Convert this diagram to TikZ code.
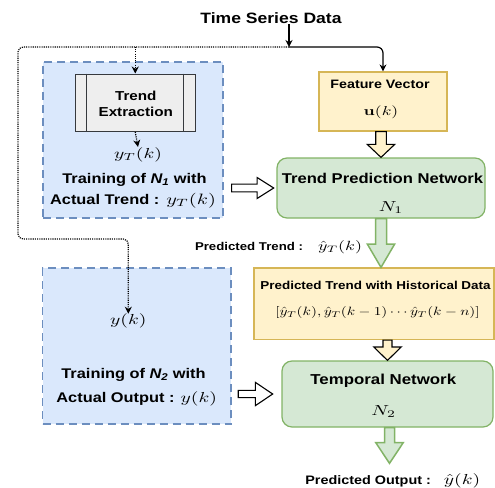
\documentclass[tikz,border=0pt]{standalone}
\usepackage[no-math]{fontspec}
\setmainfont{Liberation Sans}[FakeStretch=1.17]
\usepackage{graphicx}
\usetikzlibrary{calc,arrows.meta}

\definecolor{blueFill}{HTML}{DAE8FC}
\definecolor{blueLine}{HTML}{6C8EBF}
\definecolor{yelFill}{HTML}{FFF2CC}
\definecolor{yelLine}{HTML}{D6B656}
\definecolor{grnFill}{HTML}{D5E8D4}
\definecolor{grnLine}{HTML}{82B366}
\definecolor{grayFill}{HTML}{EEEEEE}
\definecolor{grayLine}{HTML}{36393D}

% font size helper and horizontally widened math (math set at 10pt, then scaled)
\newcommand{\setsz}[1]{\fontsize{#1}{#1}\selectfont}
\newcommand{\mx}[3][1.35]{%
  \pgfmathsetmacro\mxh{#2/10}\pgfmathsetmacro\mxw{#1*#2/10}%
  \scalebox{\mxw}[\mxh]{\fontsize{10}{12}\selectfont$#3$}}

% block arrow pointing down: style, start, end, shaft half width, head half width, head length
\newcommand{\blockdown}[6]{%
  \path let \p1=(#2), \p2=(#3) in [#1]
    (\x1-#4,\y1) -- (\x1-#4,\y2+#6) -- (\x1-#5,\y2+#6) -- (\x1,\y2)
    -- (\x1+#5,\y2+#6) -- (\x1+#4,\y2+#6) -- (\x1+#4,\y1) -- cycle;}
% block arrow pointing right
\newcommand{\blockright}[6]{%
  \path let \p1=(#2), \p2=(#3) in [#1]
    (\x1,\y2-#4) -- (\x2-#6,\y2-#4) -- (\x2-#6,\y2-#5) -- (\x2,\y2)
    -- (\x2-#6,\y2+#5) -- (\x2-#6,\y2+#4) -- (\x1,\y2+#4) -- cycle;}

\tikzset{
  lbl/.style={inner sep=0pt, anchor=base, font=\bfseries},
  bluebox/.style={draw=blueLine, fill=blueFill, line width=1.8pt,
    dash pattern=on 8pt off 5pt, inner sep=0pt},
  procbox/.style={draw=grayLine, fill=grayFill, line width=1pt, inner sep=0pt},
  yelbox/.style={draw=yelLine, fill=yelFill, line width=1.2pt, inner sep=0pt},
  grnbox/.style={draw=grnLine, fill=grnFill, line width=1.2pt,
    rounded corners=10pt, inner sep=0pt},
  dotline/.style={line width=1.2pt, dash pattern=on 1.1pt off 1.1pt},
  solidline/.style={line width=1.2pt},
  tipA/.style={-{Stealth[length=7pt,width=7pt]}},
  hollowY/.style={draw=black, fill=yelFill, line width=1.1pt},
  hollowW/.style={draw=black, fill=white, line width=1.1pt},
  hollowG/.style={draw=grnLine, fill=grnFill, line width=1.5pt},
}

\begin{document}
\begin{tikzpicture}[x=1pt,y=-1pt]
\useasboundingbox (0,0) rectangle (495,487);

% ---- boxes ----
\node[bluebox, minimum width=180pt, minimum height=156pt] (blueA) at (133,140) {};
\node[bluebox, minimum width=188.5pt, minimum height=156pt] (blueB) at (136.75,346) {};
\node[procbox, minimum width=120.5pt, minimum height=57.5pt] (tex) at (135.25,102.75) {};
\draw[grayLine, line width=1pt] ($(tex.north west)+(12.2,0)$) -- ($(tex.south west)+(12.2,0)$);
\draw[grayLine, line width=1pt] ($(tex.north east)+(-12.2,0)$) -- ($(tex.south east)+(-12.2,0)$);
\node[yelbox, minimum width=128pt, minimum height=59pt] (fv) at (383,101.5) {};
\node[grnbox, minimum width=208pt, minimum height=60pt] (tpn) at (381,188) {};
\node[yelbox, minimum width=240pt, minimum height=71.5pt] (pthd) at (374,303.75) {};
\node[grnbox, minimum width=211pt, minimum height=66pt] (tnet) at (387.5,394) {};

% ---- labels ----
\node[lbl, font=\bfseries\setsz{15}] (ts) at (271,24) {Time Series Data};
\node[lbl, font=\bfseries\setsz{13}] (teA) at (135.8,100.7) {Trend};
\node[lbl, font=\bfseries\setsz{13}] (teB) at (135.8,116) {Extraction};
\node[lbl] (yT) at (138,158) {\mx{14.5}{y_T(k)}};
\node[lbl, font=\bfseries\setsz{14}] (trA) at (134.5,183.3) {Training of \textit{N\textsubscript{1}} with};
\node[lbl, font=\bfseries\setsz{14}] (trB) at (133,204.3) {Actual Trend :\hspace{7pt}\mx{15}{y_T(k)}};
\node[lbl, font=\bfseries\setsz{12.2}] (fvA) at (380,88.3) {Feature Vector};
\node[lbl] (fvB) at (381,115) {\mx{13}{\mathbf{u}(k)}};
\node[lbl, font=\bfseries\setsz{14.2}] (tpnA) at (382.5,183.3) {Trend Prediction Network};
\node[lbl] (tpnB) at (391,211.7) {\mx{14.5}{N_1}};
\node[lbl, font=\bfseries\setsz{11.3}] (ptr) at (278.5,250.7) {Predicted Trend :\hspace{15pt}\mx{13.3}{\hat{y}_T(k)}};
\node[lbl, font=\bfseries\setsz{11.5}] (phA) at (375.5,289.3) {Predicted Trend with Historical Data};
\node[lbl] (phB) at (377.5,315.7) {\mx[1.27]{12}{[\hat{y}_T(k),\hat{y}_T(k-1)\cdots\hat{y}_T(k-n)]}};
\node[lbl] (yk) at (128.3,324.8) {\mx{14.5}{y(k)}};
\node[lbl, font=\bfseries\setsz{14}] (tbA) at (133.5,378.3) {Training of \textit{N\textsubscript{2}} with};
\node[lbl, font=\bfseries\setsz{14}] (tbB) at (136.7,402.7) {Actual Output :\hspace{6pt}\mx{14.5}{y(k)}};
\node[lbl, font=\bfseries\setsz{14.4}] (tnA) at (383.3,384) {Temporal Network};
\node[lbl] (tnB) at (383.7,415) {\mx{14.5}{N_2}};
\node[lbl, font=\bfseries\setsz{12.3}] (out) at (392.8,484) {Predicted Output :\hspace{13pt}\mx{14.5}{\hat{y}(k)}};

% ---- data flow lines ----
\coordinate (jn) at (289,47);
\coordinate (c1) at (18,47);
\coordinate (c2) at (18,239);
\draw[solidline, tipA] (ts.south -| jn) -- (jn);
\draw[solidline, tipA, rounded corners=6pt] (jn) -| (fv.north);
\draw[dotline, tipA, rounded corners=5pt] (jn) -- (c1) -- (c2) -- (c2 -| yk.north) -- (yk.north);
\draw[dotline, tipA] (jn -| tex.north) -- (tex.north);
\draw[dotline, tipA] (tex.south) -- (yT.north);

% ---- block arrows ----
\coordinate (outTip) at (389.5,463.3);
\blockdown{hollowY}{fv.south -| tpn.north}{tpn.north}{5.3pt}{13.7pt}{13pt}
\blockdown{hollowG}{tpn.south}{pthd.north -| tpn.south}{5.5pt}{13.7pt}{23.4pt}
\blockdown{hollowY}{pthd.south -| tnet.north}{tnet.north}{4.5pt}{13.7pt}{13.4pt}
\blockdown{hollowG}{tnet.south -| outTip}{outTip}{5pt}{13.7pt}{20.6pt}
\blockright{hollowW}{$(blueA.east)+(7.7,0)$}{$(tpn.west)+(-2.7,0)$}{3.85pt}{10.5pt}{16.6pt}
\blockright{hollowW}{$(blueB.east)+(6.3,0)$}{$(tnet.west)+(-8.7,0)$}{3.65pt}{11.6pt}{17.3pt}
\end{tikzpicture}
\end{document}
